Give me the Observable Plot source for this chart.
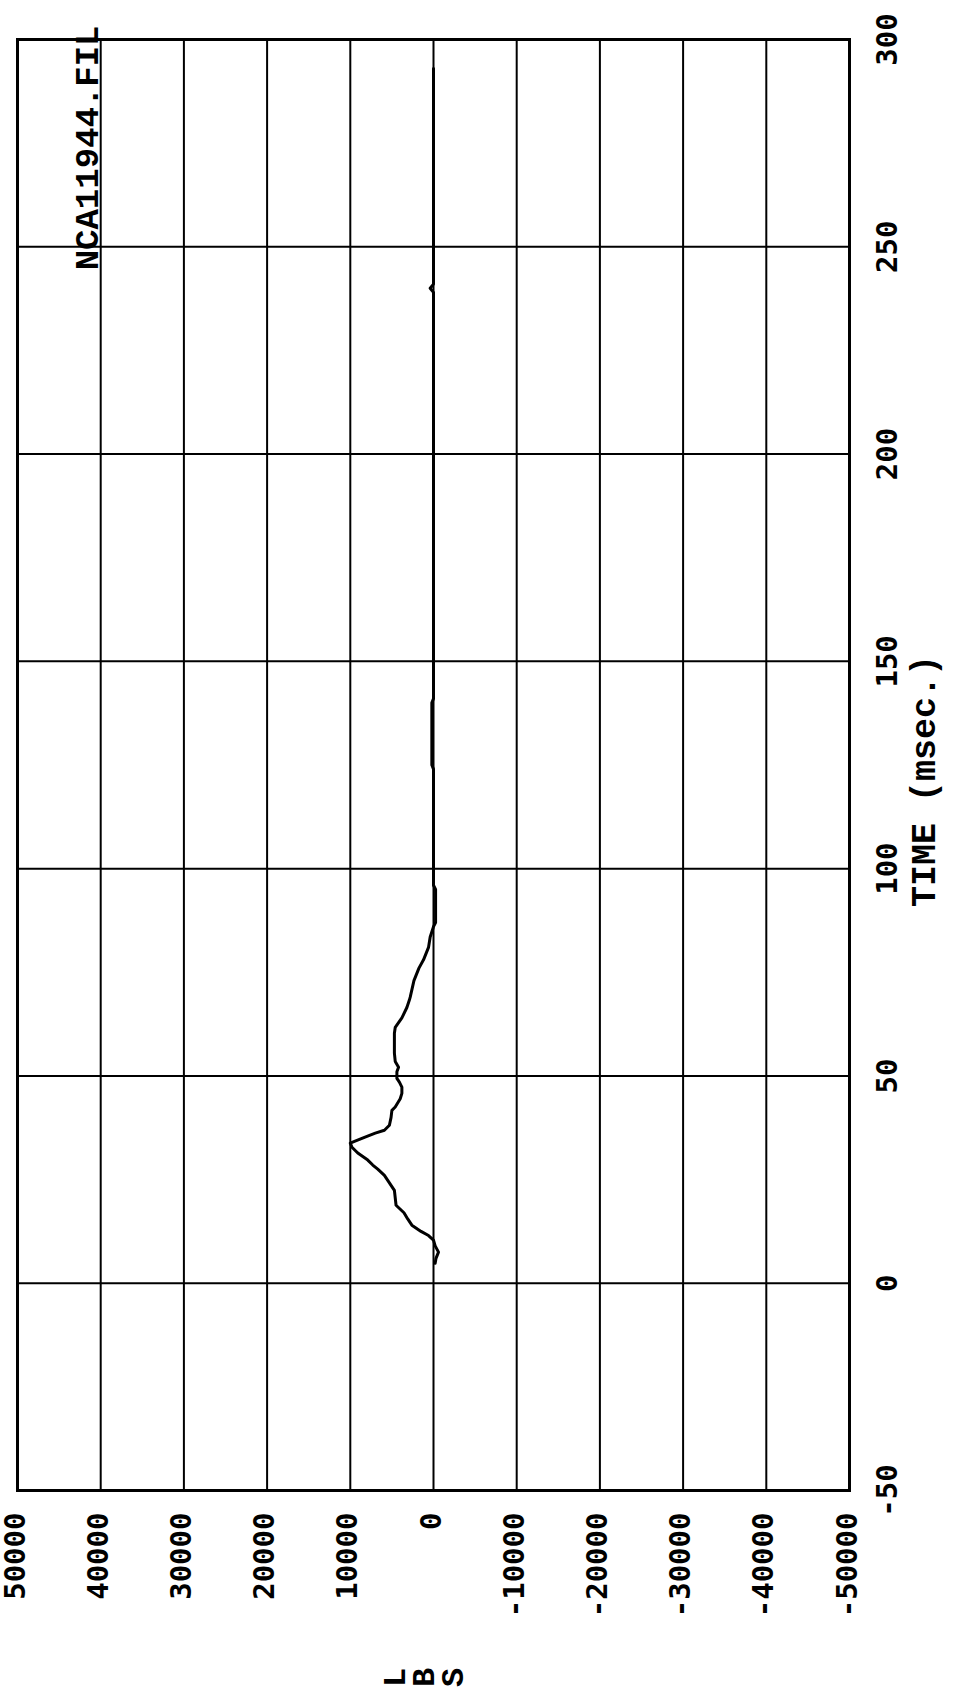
<!DOCTYPE html>
<html>
<head>
<meta charset="utf-8">
<script src="https://cdn.jsdelivr.net/npm/d3@7"></script>
<script src="https://cdn.jsdelivr.net/npm/@observablehq/plot@0.6"></script>
<style>
  html, body { margin: 0; padding: 0; background: #fff; }
  #chart svg { display: block; }
</style>
</head>
<body>
<div id="chart"></div>
<script>
// Time (msec.) of each sample
const timeMs = [4.8, 6, 7.5, 9, 10.4, 11.5, 12.5, 14, 15.5, 17, 18.8, 22.4, 24.8, 26, 27.5, 28.5, 29.7, 31.4, 32.8, 33.8,
  34.2, 35.2, 36.2, 36.9, 38.1, 40, 41.7, 42.5, 44.5, 45.8, 47.3, 48.5, 49.4, 51, 52.1, 53.5, 55.5, 60.3, 61.7, 64,
  66.5, 68.3, 69, 73, 76, 78, 81, 83.5, 86, 87, 95, 96, 124, 125, 140, 141, 239, 240, 241, 293];
// Force (LBS) of each sample
const forceLbs = [-200, -300, -600, -200, 0, 600, 1500, 2600, 3100, 3550, 4500, 4700, 5500, 5900, 6700, 7300, 7900, 9100, 9800, 10000,
  9500, 8300, 7000, 5900, 5300, 5100, 5000, 4600, 4000, 3800, 3800, 4100, 4400, 4400, 4200, 4600, 4700, 4700, 4600, 3800,
  3200, 2900, 2800, 2350, 1750, 1200, 600, 400, 0, -250, -250, 0, 0, 200, 200, 0, 0, 400, 0, 0];

const lbsTicks = [50000, 40000, 30000, 20000, 10000, 0, -10000, -20000, -30000, -40000, -50000];
const timeTicks = [-50, 0, 50, 100, 150, 200, 250, 300];
const fileLabel = "NCA11944.FIL";
const xTitle = "TIME (msec.)";
const yTitleLetters = ["L", "B", "S"];

const data = timeMs.map((t, i) => ({t, lbs: forceLbs[i]}));

const digitFont = "'DejaVu Sans Mono', monospace";
const serifFont = "'Liberation Mono', 'DejaVu Sans Mono', monospace";

const chart = Plot.plot({
  width: 960,
  height: 1691,
  marginLeft: 17,
  marginRight: 111,
  marginTop: 39,
  marginBottom: 201,
  x: {domain: [50000, -50000], axis: null},
  y: {domain: [-50, 300], axis: null},
  marks: [
    Plot.ruleX(lbsTicks, {x: d => d, stroke: "black", strokeWidth: 2}),
    Plot.ruleY(timeTicks, {y: d => d, stroke: "black", strokeWidth: 2}),
    Plot.frame({stroke: "black", strokeWidth: 3}),
    Plot.line(data, {x: "lbs", y: "t", stroke: "black", strokeWidth: 3}),
    // time tick labels (right side)
    Plot.text(timeTicks, {y: d => d, text: d => String(d), frameAnchor: "right", dx: 38, rotate: -90,
      textAnchor: "middle", fontSize: 29, fontWeight: "bold", fontFamily: digitFont, fill: "black", letterSpacing: 4}),
    // LBS tick labels (bottom)
    Plot.text(lbsTicks, {x: d => d, text: d => String(d), frameAnchor: "bottom", dy: 22, dx: 7, rotate: -90,
      textAnchor: "end", fontSize: 29, fontWeight: "bold", fontFamily: digitFont, fill: "black", letterSpacing: 4}),
    // time axis title
    Plot.text([xTitle], {text: d => d, frameAnchor: "right", dx: 74, dy: 16, rotate: -90, textAnchor: "middle",
      fontSize: 35, fontWeight: "bold", fontFamily: serifFont, fill: "black", letterSpacing: 8}),
    // LBS title, letters side by side each rotated
    Plot.text(yTitleLetters, {text: d => d, frameAnchor: "bottom", dy: 187, rotate: -90, textAnchor: "middle",
      fontSize: 32, fontWeight: "bold", fontFamily: serifFont, fill: "black"}),
    // file name
    Plot.text([fileLabel], {x: [40000], text: d => d, frameAnchor: "top", dy: -14, dx: -3, rotate: -90,
      textAnchor: "end", lineAnchor: "bottom", fontSize: 34, fontWeight: "bold", fontFamily: serifFont, fill: "black"})
  ]
});

document.getElementById("chart").appendChild(chart);
// spread the three LBS letters horizontally (they share one anchor)
const letterNodes = [...chart.querySelectorAll("text")].filter(n => yTitleLetters.includes(n.textContent));
const offsets = [-29, 0, 29];
letterNodes.forEach((n, i) => {
  const tr = n.getAttribute("transform") || "";
  n.setAttribute("transform", `translate(${offsets[i]},0) ` + tr);
});
</script>
</body>
</html>
